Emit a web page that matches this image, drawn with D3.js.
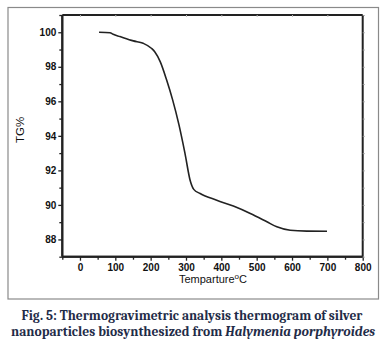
<!DOCTYPE html>
<html><head><meta charset="utf-8">
<script src="https://cdn.jsdelivr.net/npm/d3@7/dist/d3.min.js"></script>
<style>body{margin:0;background:#fff}svg{display:block}</style>
</head><body>
<svg id="c" width="385" height="347"></svg>
<script>
const temperature = [54, 85, 94, 113, 151, 179, 203, 212, 227, 245, 262, 280, 297, 312, 322, 340, 387, 434, 482, 529, 557, 595, 642, 699];
const tgPercent   = [100.0, 99.97, 99.88, 99.75, 99.5, 99.36, 99.06, 98.86, 98.3, 97.25, 96.1, 94.65, 93.0, 91.4, 90.9, 90.66, 90.27, 89.93, 89.5, 89.02, 88.73, 88.53, 88.48, 88.47];
const xTicks = [0, 100, 200, 300, 400, 500, 600, 700, 800];
const xMinor = [-50, 50, 150, 250, 350, 450, 550, 650, 750];
const yTicks = [88, 90, 92, 94, 96, 98, 100];
const yMinor = [87, 89, 91, 93, 95, 97, 99, 101];

const svg = d3.select("#c");
const L = 62.3, R = 362.7, T = 15, B = 256.7;
const x = d3.scaleLinear().domain([-50, 800]).range([L, R]);
const y = d3.scaleLinear().domain([87, 101]).range([B, T]);
const ink = "#222";

// outer frame
svg.append("rect").attr("x", 8).attr("y", 7.5).attr("width", 370.5).attr("height", 291.5)
  .attr("fill", "none").attr("stroke", "#8a8a8a").attr("stroke-width", 1.2);

// bottom axis
const gx = svg.append("g").attr("transform", `translate(0,${B})`)
  .call(d3.axisBottom(x).tickValues(xTicks).tickSize(4).tickPadding(3).tickFormat(d3.format("d")));
gx.append("g").call(d3.axisBottom(x).tickValues(xMinor).tickSize(3).tickFormat(""));
// left axis
const gy = svg.append("g").attr("transform", `translate(${L},0)`)
  .call(d3.axisLeft(y).tickValues(yTicks).tickSize(4).tickPadding(2).tickFormat(d3.format("d")));
gy.append("g").call(d3.axisLeft(y).tickValues(yMinor).tickSize(3).tickFormat(""));
// top & right axes (no labels)
const gt = svg.append("g").attr("transform", `translate(0,${T})`)
  .call(d3.axisTop(x).tickValues(xTicks).tickSize(-2).tickFormat(""));
const gr = svg.append("g").attr("transform", `translate(${R},0)`)
  .call(d3.axisRight(y).tickValues(yTicks.concat(yMinor)).tickSize(2).tickFormat(""));

[gx, gy, gt, gr].forEach(g => {
  g.selectAll(".domain").attr("stroke", ink).attr("stroke-width", 2);
  g.selectAll(".tick line").attr("stroke", ink).attr("stroke-width", 1.3);
  g.selectAll("text").attr("fill", "#111").attr("font-family", "Liberation Sans, Arial, sans-serif")
    .attr("font-size", 10).attr("font-weight", "bold");
});
gt.selectAll(".tick line").attr("stroke", "#bbb").attr("stroke-width", 1);
gr.selectAll(".tick line").attr("stroke", "#999").attr("stroke-width", 1);
gx.selectAll(".domain").attr("d", `M${L},0H${R}`);
gy.selectAll(".domain").attr("d", `M0,${B}V${T}`);
gt.selectAll(".domain").attr("d", `M${L},0H${R}`);
gr.selectAll(".domain").attr("d", `M0,${T}V${B}`);

// curve
svg.append("path")
  .datum(temperature.map((t, i) => [t, tgPercent[i]]))
  .attr("fill", "none").attr("stroke", ink).attr("stroke-width", 1.6)
  .attr("stroke-linejoin", "round")
  .attr("d", d3.line().x(d => x(d[0])).y(d => y(d[1])).curve(d3.curveMonotoneX));

// axis titles
const xt = svg.append("text").attr("x", 213).attr("y", 283).attr("text-anchor", "middle")
  .attr("font-family", "Liberation Sans, Arial, sans-serif").attr("font-size", 11).attr("fill", "#111");
xt.append("tspan").text("Temparture");
xt.append("tspan").attr("dy", -4).attr("font-size", 8).text("o");
xt.append("tspan").attr("dy", 4).text("C");

svg.append("text").attr("transform", "translate(24,130) rotate(-90)").attr("text-anchor", "middle")
  .attr("font-family", "Liberation Sans, Arial, sans-serif").attr("font-size", 11.5).attr("fill", "#111")
  .text("TG%");

// caption
const capFont = "Cambria, 'Liberation Serif', 'DejaVu Serif', serif";
svg.append("text").attr("x", 192).attr("y", 320).attr("text-anchor", "middle")
  .attr("font-family", capFont).attr("font-size", 13).attr("font-weight", "bold").attr("fill", "#1f2c48")
  .attr("textLength", 341).attr("lengthAdjust", "spacingAndGlyphs")
  .text("Fig. 5: Thermogravimetric analysis thermogram of silver");
const c2 = svg.append("text").attr("x", 193).attr("y", 335.5).attr("text-anchor", "middle")
  .attr("font-family", capFont).attr("font-size", 13).attr("font-weight", "bold").attr("fill", "#1f2c48")
  .attr("textLength", 364).attr("lengthAdjust", "spacingAndGlyphs");
c2.append("tspan").text("nanoparticles biosynthesized from ");
c2.append("tspan").attr("font-style", "italic").text("Halymenia porphyroides");
</script>
</body></html>
